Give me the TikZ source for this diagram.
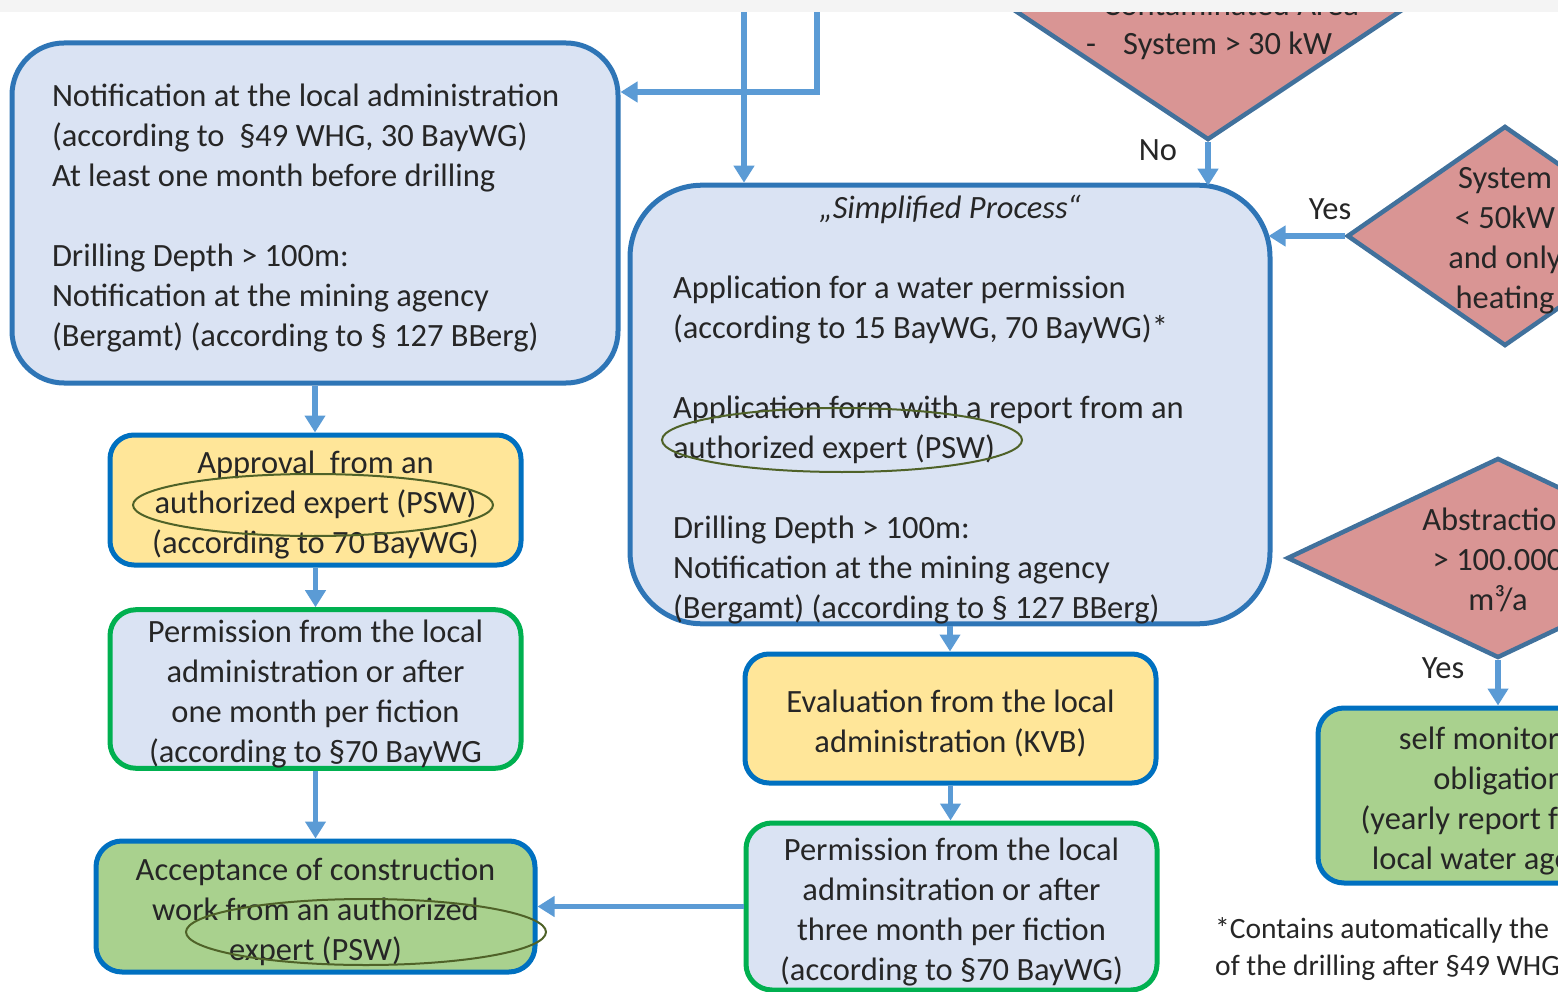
\documentclass[tikz,border=0pt]{standalone}
\usepackage{fontspec}
\setmainfont{Carlito}
\usetikzlibrary{arrows.meta,shapes.geometric}

\definecolor{boxblue}{HTML}{DAE3F3}
\definecolor{edgeblue}{HTML}{2E75B6}
\definecolor{edgevivid}{HTML}{0070C0}
\definecolor{edgegreen}{HTML}{00B050}
\definecolor{paleyellow}{HTML}{FFE699}
\definecolor{palegreen}{HTML}{A9D18E}
\definecolor{rosefill}{HTML}{D99594}
\definecolor{diamondedge}{HTML}{41719C}
\definecolor{flowblue}{HTML}{5B9BD5}
\definecolor{markgreen}{HTML}{4F6228}
\definecolor{inktext}{HTML}{262626}
\definecolor{topband}{HTML}{F4F4F4}

\begin{document}
\begin{tikzpicture}[x=1pt,y=-1pt,
  font=\fontsize{32.5}{40}\selectfont, text=inktext,
  card/.style={rectangle, line width=5pt, inner sep=0pt, align=flush center,
               text width=400pt, execute at begin node=\rule{0pt}{33pt}},
  bigcard/.style={card, draw=edgeblue, fill=boxblue, align=flush left,
                  execute at begin node=\rule{0pt}{31pt}},
  yellowcard/.style={card, draw=edgevivid, fill=paleyellow, rounded corners=24pt},
  permitcard/.style={card, draw=edgegreen, fill=boxblue, rounded corners=26pt},
  donecard/.style={card, draw=edgevivid, fill=palegreen, rounded corners=26pt},
  decision/.style={diamond, draw=diamondedge, fill=rosefill, line width=4.5pt, inner sep=0pt},
  ring/.style={ellipse, draw=markgreen, line width=2pt, inner sep=0pt},
  flow/.style={draw=flowblue, line width=5.5pt, -{Triangle[width=20pt,length=17pt]}},
  tag/.style={inner sep=0pt},
  note/.style={inner sep=0pt, anchor=base west, font=\fontsize{29.5}{37}\selectfont}
]
\useasboundingbox (0,0) rectangle (1558,992);

\begin{scope}
\clip (0,12) rectangle (1558,992);

% incoming lines from the upper part of the chart
\coordinate (inL) at (744,0);
\coordinate (inR) at (817,0);
\coordinate (bend) at (817,92);

% decisions
\node[decision, minimum width=540pt, minimum height=360pt] (D1) at (1208,-40) {};
\node[tag, anchor=base west] (D1a) at (1103,16) {Contaminated Area};
\node[tag, anchor=base west] (D1b) at (1086,55) {\makebox[37pt][l]{-}System > 30 kW};

\node[decision, minimum width=316pt, minimum height=220pt] (D2) at (1505,236) {};
\node[tag, align=center] (D2t) at (1505,241) {System\\< 50kW\\and only\\heating};

\node[decision, minimum width=422pt, minimum height=200pt] (D3) at (1498,558) {};
\node[tag, align=center] (D3t) at (1498,560) {Abstraction\\> 100.000\\m³/a};

% process boxes
\node[bigcard, rounded corners=52pt, minimum width=606pt, minimum height=340pt,
      text width=526pt] (A) at (315,213)
  {Notification at the local administration\\
   (according to\ \ §49 WHG, 30 BayWG)\\
   At least one month before drilling\\[40pt]
   Drilling Depth > 100m:\\
   Notification at the mining agency\\
   (Bergamt) (according to § 127 BBerg)};

\node[bigcard, rounded corners=72pt, minimum width=640pt, minimum height=435pt,
      text width=554pt] (B) at (950,404.5)
  {\makebox[554pt]{\itshape „Simplified Process“}\\[40pt]
   Application for a water permission\\
   (according to 15 BayWG, 70 BayWG)*\\[40pt]
   Application form with a report from an\\
   authorized expert (PSW)\\[40pt]
   Drilling Depth > 100m:\\
   Notification at the mining agency\\
   (Bergamt) (according to § 127 BBerg)};

\node[yellowcard, minimum width=411pt, minimum height=130pt] (C) at (315.5,500)
  {Approval\ \ from an\\authorized expert (PSW)\\(according to 70 BayWG)};

\node[permitcard, minimum width=411pt, minimum height=156pt] (Dp) at (315.5,689)
  {Permission from the local\\administration or after\\one month per fiction\\(according to §70 BayWG};

\node[donecard, minimum width=439pt, minimum height=131pt] (E) at (315.5,906.5)
  {Acceptance of construction\\work from an authorized\\expert (PSW)};

\node[yellowcard, minimum width=411pt, minimum height=129pt] (F) at (950.5,718.5)
  {Evaluation from the local\\administration (KVB)};

\node[permitcard, minimum width=411pt, minimum height=167pt] (G) at (951.5,906.5)
  {Permission from the local\\adminsitration or after\\three month per fiction\\(according to §70 BayWG)};

\node[donecard, minimum width=362pt, minimum height=175pt, text width=350pt] (H) at (1499,795.5)
  {self monitoring\\obligation\\(yearly report for the\\local water agency)};

% expert markings
\node[ring, minimum width=360pt, minimum height=64pt] (ring1) at (842,440) {};
\node[ring, minimum width=360pt, minimum height=62pt] (ring2) at (313,505) {};
\node[ring, minimum width=360pt, minimum height=66pt] (ring3) at (366,932) {};

% connectors
\draw[flow] (inR) -- (bend) -- (bend -| A.east);
\draw[flow] (inL) -- (inL |- B.north);
\draw[flow] (D1.south) -- ([yshift=-3pt]B.north -| D1.south);
\draw[flow] (D2.west) -- ([xshift=-4pt]D2.west -| B.east);
\draw[flow] (D3.south) -- (D3.south |- H.north);
\draw[flow] (A.south) -- (A.south |- C.north);
\draw[flow] (C.south) -- (C.south |- Dp.north);
\draw[flow] (Dp.south) -- (Dp.south |- E.north);
\draw[flow] (B.south) -- (B.south |- F.north);
\draw[flow] (F.south) -- (F.south |- G.north);
\draw[flow] (G.west) -- (G.west -| E.east);

% branch labels
\node[tag] (no1) at (1158,150) {No};
\node[tag] (yes1) at (1330,209) {Yes};
\node[tag] (yes2) at (1443,668) {Yes};

% footnote
\node[note] (fn1) at (1215,938) {*Contains automatically the};
\node[note] (fn2) at (1215,975) {of the drilling after §49 WHG};
\end{scope}

\fill[topband] (0,0) rectangle (1558,12);
\end{tikzpicture}
\end{document}
